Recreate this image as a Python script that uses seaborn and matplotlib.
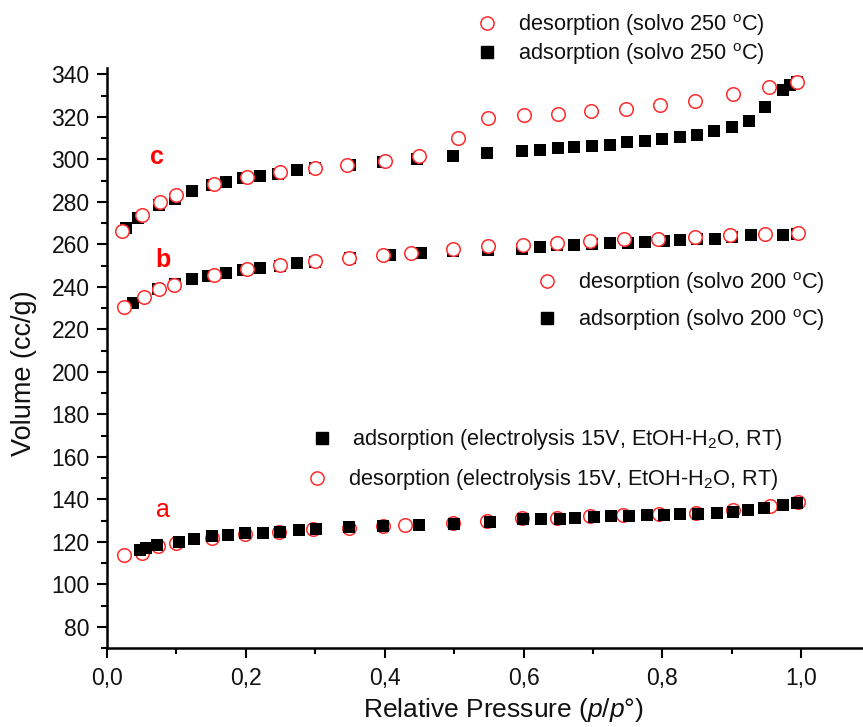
import matplotlib
matplotlib.use("Agg")
import matplotlib.pyplot as plt
import seaborn as sns
import pandas as pd
from matplotlib.lines import Line2D

sns.set_theme(style="ticks")
plt.rcParams['font.family'] = ['Liberation Sans', 'DejaVu Sans']
plt.rcParams['mathtext.fontset'] = 'custom'
plt.rcParams['mathtext.rm'] = 'Liberation Sans'
plt.rcParams['mathtext.it'] = 'Liberation Sans:italic'

# ---- data ----
a_ads_p = [0.048, 0.056, 0.072, 0.103, 0.125, 0.151, 0.175, 0.199, 0.224, 0.249, 0.276, 0.301, 0.349, 0.398,
           0.449, 0.500, 0.551, 0.599, 0.625, 0.653, 0.674, 0.701, 0.726, 0.752, 0.778, 0.802, 0.826, 0.852,
           0.878, 0.902, 0.924, 0.946, 0.974, 0.994]
a_ads_v = [116.2, 117.3, 118.6, 120.0, 121.5, 122.5, 123.1, 123.9, 124.2, 124.7, 125.5, 126.2, 126.9, 127.5,
           128.1, 128.6, 129.5, 130.6, 130.9, 130.9, 131.4, 131.6, 131.9, 132.2, 132.5, 132.7, 133.0, 133.3,
           133.7, 134.2, 134.9, 135.8, 137.2, 138.4]
a_des_p = [0.024, 0.050, 0.074, 0.100, 0.151, 0.199, 0.248, 0.297, 0.348, 0.398, 0.429, 0.498, 0.547,
           0.598, 0.648, 0.696, 0.744, 0.795, 0.849, 0.902, 0.955, 0.995]
a_des_v = [113.9, 114.9, 117.8, 119.6, 122.0, 123.6, 124.7, 125.9, 126.7, 127.5, 128.0, 128.8, 129.8,
           131.4, 131.4, 132.2, 132.5, 133.0, 133.7, 134.9, 136.9, 138.6]

b_ads_p = [0.038, 0.074, 0.098, 0.122, 0.146, 0.171, 0.196, 0.221, 0.249, 0.273, 0.300, 0.350, 0.408, 0.452,
           0.498, 0.549, 0.598, 0.624, 0.648, 0.673, 0.698, 0.725, 0.751, 0.775, 0.802, 0.826, 0.850, 0.876,
           0.900, 0.927, 0.974, 0.994]
b_ads_v = [232.5, 238.8, 241.1, 243.5, 245.0, 246.3, 247.9, 249.0, 249.7, 251.3, 251.8, 253.4, 254.9, 256.0,
           256.8, 257.1, 257.6, 258.7, 259.5, 259.9, 260.2, 260.7, 260.7, 261.1, 261.8, 262.0, 262.7, 262.7,
           263.5, 264.2, 264.6, 264.9]
b_des_p = [0.024, 0.053, 0.075, 0.097, 0.154, 0.201, 0.249, 0.300, 0.348, 0.398, 0.438, 0.498, 0.549,
           0.599, 0.648, 0.696, 0.745, 0.794, 0.847, 0.897, 0.948, 0.996]
b_des_v = [230.4, 235.3, 238.8, 240.8, 245.4, 248.2, 250.2, 252.1, 253.6, 254.9, 256.0, 257.9, 259.1,
           259.9, 260.7, 261.5, 262.3, 262.7, 263.5, 264.2, 264.9, 265.4]

c_ads_p = [0.028, 0.045, 0.075, 0.098, 0.122, 0.151, 0.171, 0.196, 0.221, 0.247, 0.273, 0.300, 0.350, 0.398,
           0.446, 0.498, 0.547, 0.598, 0.624, 0.649, 0.673, 0.698, 0.725, 0.749, 0.775, 0.799, 0.825, 0.850,
           0.875, 0.900, 0.925, 0.948, 0.974, 0.984, 0.994]
c_ads_v = [267.7, 272.4, 278.7, 281.4, 285.3, 288.1, 289.4, 291.0, 292.4, 293.3, 294.9, 295.7, 297.2, 298.8,
           300.4, 301.4, 303.0, 304.1, 304.6, 305.3, 305.8, 306.5, 306.9, 308.0, 308.5, 309.6, 310.4, 311.6,
           313.2, 315.1, 317.9, 324.5, 332.8, 335.1, 336.2]
c_des_p = [0.021, 0.050, 0.077, 0.099, 0.154, 0.201, 0.249, 0.300, 0.346, 0.401, 0.450, 0.505, 0.549,
           0.600, 0.649, 0.697, 0.747, 0.797, 0.847, 0.902, 0.953, 0.994]
c_des_v = [266.5, 273.7, 279.8, 283.1, 288.4, 291.6, 293.9, 295.9, 297.5, 299.4, 301.4, 310.0, 319.5,
           320.7, 321.5, 322.6, 323.9, 325.4, 327.3, 330.9, 333.9, 336.4]

x_ticks = [0.0, 0.2, 0.4, 0.6, 0.8, 1.0]
x_ticklabels = ['0,0', '0,2', '0,4', '0,6', '0,8', '1,0']
y_ticks = [80, 100, 120, 140, 160, 180, 200, 220, 240, 260, 280, 300, 320, 340]

lab_c_des = 'desorption (solvo 250 $^{\\mathregular{o}}$C)'
lab_c_ads = 'adsorption (solvo 250 $^{\\mathregular{o}}$C)'
lab_b_des = 'desorption (solvo 200 $^{\\mathregular{o}}$C)'
lab_b_ads = 'adsorption (solvo 200 $^{\\mathregular{o}}$C)'
lab_a_ads = 'adsorption (electrolysis 15V, EtOH-H$_{\\mathregular{2}}$O, RT)'
lab_a_des = 'desorption (electrolysis 15V, EtOH-H$_{\\mathregular{2}}$O, RT)'

def df(p, v):
    return pd.DataFrame({'p': p, 'V': v})

W, H = 863, 727
fig = plt.figure(figsize=(W / 100, H / 100), dpi=100)
ax = fig.add_axes([107 / W, 1 - 648 / H, 1 - 107 / W, (648 - 68) / H])

RED = '#ff2a2a'
sq = dict(marker='s', color='black', edgecolor='black', s=80, linewidth=0, zorder=3)
ci = dict(marker='o', facecolor='white', edgecolor=RED, s=95, linewidth=1.1)

# a: circles under squares
sns.scatterplot(data=df(a_des_p, a_des_v), x='p', y='V', ax=ax, zorder=2, **ci)
sns.scatterplot(data=df(a_ads_p, a_ads_v), x='p', y='V', ax=ax, **sq)
# b, c: squares under circles
sns.scatterplot(data=df(b_ads_p, b_ads_v), x='p', y='V', ax=ax, **sq)
sns.scatterplot(data=df(b_des_p, b_des_v), x='p', y='V', ax=ax, zorder=4, **ci)
sns.scatterplot(data=df(c_ads_p, c_ads_v), x='p', y='V', ax=ax, **sq)
sns.scatterplot(data=df(c_des_p, c_des_v), x='p', y='V', ax=ax, zorder=4, **ci)

ax.set_xlim(0, 1.089)
ax.set_ylim(70, 343)
ax.set_xticks(x_ticks)
ax.set_xticklabels(x_ticklabels)
ax.set_xticks([0.1, 0.3, 0.5, 0.7, 0.9], minor=True)
ax.set_yticks(y_ticks)
ax.set_yticks(list(range(70, 343, 10)), minor=True)
ax.tick_params(axis='both', which='major', direction='out', length=7.5, width=1.5, labelsize=16.5,
               color='black', labelcolor='#111111')
ax.tick_params(axis='both', which='minor', direction='out', length=4.3, width=1.5, color='black')
ax.tick_params(axis='x', which='major', pad=6)
ax.tick_params(axis='y', which='major', pad=5)
for s in ['top', 'right']:
    ax.spines[s].set_visible(False)
for s in ['left', 'bottom']:
    ax.spines[s].set_linewidth(1.8)
    ax.spines[s].set_color('black')

ax.set_xlabel('Relative Pressure ($\\mathit{p/p}$°)', fontsize=19, color='#111111')
ax.set_ylabel('Volume (cc/g)', fontsize=19.5, color='#111111')
ax.yaxis.set_label_coords(37 / W, 1 - 373 / H, transform=fig.transFigure)
ax.xaxis.set_label_coords(503 / W, 1 - 696 / H, transform=fig.transFigure)

def mk_sq():
    return Line2D([], [], marker='s', color='black', linestyle='none', markersize=9)

def mk_ci():
    return Line2D([], [], marker='o', markerfacecolor='white', markeredgecolor=RED,
                  markeredgewidth=1.1, linestyle='none', markersize=9.5)

FS = 15.7
HL = 1.0
half = HL * FS * 100 / 72 / 2  # handle half width in px

legends = []
def entry(handle, label, cx, cy, tx):
    pad_px = tx - (cx + half)
    leg = ax.legend([handle], [label], frameon=False, fontsize=FS, handlelength=HL,
                    handletextpad=pad_px / (FS * 100 / 72), borderpad=0, borderaxespad=0,
                    loc='center left', bbox_to_anchor=((cx - half) / W, 1 - cy / H),
                    bbox_transform=fig.transFigure)
    for t in leg.get_texts():
        t.set_color('#111111')
    legends.append(leg)

entry(mk_ci(), lab_c_des, 487, 25, 518)
entry(mk_sq(), lab_c_ads, 487, 54, 518)
entry(mk_ci(), lab_b_des, 547, 283, 578)
entry(mk_sq(), lab_b_ads, 547, 320, 578)
entry(mk_sq(), lab_a_ads, 322, 440, 352)
entry(mk_ci(), lab_a_des, 317, 480, 348)
for leg in legends[:-1]:
    ax.add_artist(leg)

ax.text(157 / W, 1 - 157 / H, 'c', transform=fig.transFigure, color='#ff0000', fontsize=18,
        fontweight='bold', ha='center', va='center')
ax.text(163 / W, 1 - 260 / H, 'b', transform=fig.transFigure, color='#ff0000', fontsize=18,
        fontweight='bold', ha='center', va='center')
ax.text(163 / W, 1 - 510 / H, 'a', transform=fig.transFigure, color='#ff0000', fontsize=18,
        ha='center', va='center')

fig.savefig('out.png', dpi=100)
